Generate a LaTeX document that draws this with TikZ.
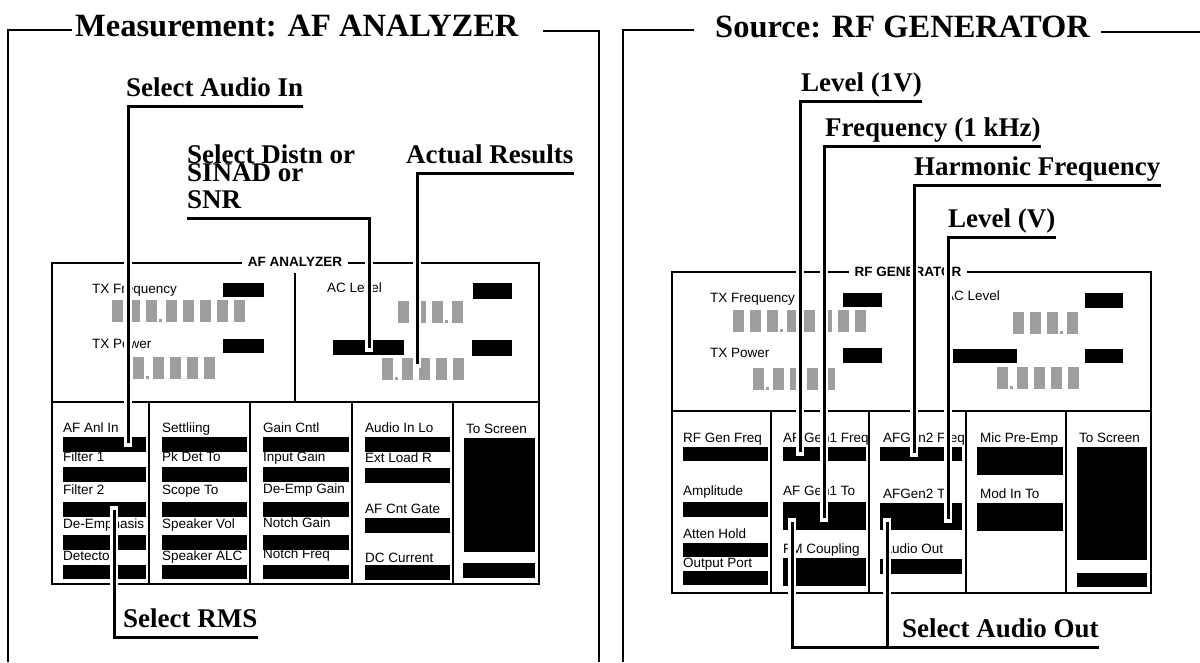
\documentclass[tikz,border=0pt]{standalone}
\usepackage{fontspec}
\setmainfont{Liberation Serif}
\newfontfamily\panelfont{Liberation Sans}
\usepackage{tikz}

% one row of grey display digits: x, top y, digits before / after the point
\newcommand{\segrow}[4]{%
  \foreach \i in {1,...,#3} \fill[segfill] ({#1+(\i-1)*17},#2) rectangle ++(11,22);
  \fill[segfill] ({#1+#3*17-4},{#2+19}) rectangle ++(3,3);
  \foreach \j in {1,...,#4} \fill[segfill] ({#1+#3*17+3+(\j-1)*17},#2) rectangle ++(11,22);
}

\tikzset{
  frameline/.style={line width=1.5pt},
  panelline/.style={line width=2.5pt},
  divline/.style={line width=1.2pt},
  callout/.style={line width=3pt, preaction={draw=white, line width=8pt, line cap=rect}},
  heading/.style={font=\bfseries\fontsize{32.5}{34}\selectfont, inner sep=0pt, anchor=base west},
  calllabel/.style={font=\bfseries\fontsize{27}{27}\selectfont, inner xsep=0pt, inner ysep=2pt,
    text depth=7pt, anchor=south west, align=left},
  pnl/.style={font=\panelfont\fontsize{13.5}{14}\selectfont, inner sep=0pt, anchor=base west},
  pnltitle/.style={font=\panelfont\bfseries\fontsize{13.5}{14}\selectfont, fill=white,
    inner xsep=6pt, inner ysep=2pt},
  segfill/.style={fill=black!38},
}

\begin{document}
\begin{tikzpicture}[x=1pt, y=-1pt]
  \useasboundingbox (0,0) rectangle (1200,662);

  % frames and headings
  \node[heading] (ttlMeas) at (75,36) {Measurement: AF ANALYZER};
  \draw[frameline] (8,662) -- (8,30) -- (72,30);
  \draw[frameline] (543,31) -- (599,31) -- (599,662);
  \node[heading] (ttlSrc) at (715,37) {Source: RF GENERATOR};
  \draw[frameline] (623,662) -- (623,30) -- (694,30);
  \draw[frameline] (1101,32) -- (1200,32);

  % ---------------- AF ANALYZER panel ----------------
  \draw[panelline] (52,263) rectangle (539,584);
  \draw[divline] (52,402) -- (539,402);
  \draw[divline] (295,273) -- (295,402);
  \foreach \x in {149,250,352,453}
    \draw[divline] (\x,402) -- (\x,584);
  \node[pnltitle] (pttlAF) at (295,262) {AF ANALYZER};

  % meters
  \node[pnl] (afTxF) at (92,293) {TX Frequency};
  \node[pnl] (afTxP) at (92,348) {TX Power};
  \node[pnl] (afAcL) at (327,292) {AC Level};
  \fill (223,283) rectangle (264,297);
  \fill (223,339) rectangle (264,353);
  \fill (473,283) rectangle (512,299);
  \fill (333,340) rectangle (404,355);
  \fill (472,340) rectangle (512,356);
  \segrow{112}{300}{3}{5}
  \segrow{133}{357}{1}{4}
  \segrow{398}{301}{3}{1}
  \segrow{382}{358}{1}{4}

  % settings fields
  \foreach \yb/\ya/\yz/\txt [count=\r] in {432/437/452/AF Anl In, 461/467/482/Filter 1,
      494/502/517/Filter 2, 528/535/550/De-Emphasis, 560/565/579/Detector} {
    \node[pnl] (af1-\r) at (63,\yb) {\txt};
    \fill (63,\ya) rectangle (146,\yz);
  }
  \foreach \yb/\ya/\yz/\txt [count=\r] in {432/437/452/Settliing, 461/467/482/Pk Det To,
      494/502/517/Scope To, 528/535/550/Speaker Vol, 560/565/579/Speaker ALC} {
    \node[pnl] (af2-\r) at (162,\yb) {\txt};
    \fill (162,\ya) rectangle (247,\yz);
  }
  \foreach \yb/\ya/\yz/\txt [count=\r] in {432/437/452/Gain Cntl, 461/467/482/Input Gain,
      493/502/517/De-Emp Gain, 527/535/550/Notch Gain, 558/565/579/Notch Freq} {
    \node[pnl] (af3-\r) at (263,\yb) {\txt};
    \fill (263,\ya) rectangle (349,\yz);
  }
  \foreach \yb/\ya/\yz/\txt [count=\r] in {432/437/452/Audio In Lo, 462/468/483/Ext Load R,
      513/518/533/AF Cnt Gate, 562/565/580/DC Current} {
    \node[pnl] (af4-\r) at (365,\yb) {\txt};
    \fill (365,\ya) rectangle (450,\yz);
  }
  \node[pnl] (af5-1) at (466,433) {To Screen};
  \fill (464,438) rectangle (535,552);
  \fill (463,563) rectangle (535,578);

  % ---------------- RF GENERATOR panel ----------------
  \draw[panelline] (672,272) rectangle (1151,593);
  \draw[divline] (672,411) -- (1151,411);
  \foreach \x in {771,869,966,1066}
    \draw[divline] (\x,411) -- (\x,593);
  \node[pnltitle] (pttlRF) at (908,272) {RF GENERATOR};

  % meters
  \node[pnl] (rfTxF) at (710,302) {TX Frequency};
  \node[pnl] (rfTxP) at (710,357) {TX Power};
  \node[pnl] (rfAcL) at (945,300) {AC Level};
  \fill (843,293) rectangle (882,307);
  \fill (843,348) rectangle (882,363);
  \fill (1085,293) rectangle (1123,308);
  \fill (953,349) rectangle (1017,363);
  \fill (1085,349) rectangle (1123,363);
  \segrow{733}{310}{3}{5}
  \segrow{753}{368}{1}{4}
  \segrow{1013}{312}{3}{1}
  \segrow{997}{367}{1}{4}

  % settings fields
  \foreach \yb/\ya/\yz/\txt [count=\r] in {442/447/461/RF Gen Freq, 495/502/517/Amplitude,
      538/543/557/Atten Hold, 567/571/585/Output Port} {
    \node[pnl] (rf1-\r) at (683,\yb) {\txt};
    \fill (683,\ya) rectangle (768,\yz);
  }
  \foreach \yb/\ya/\yz/\txt [count=\r] in {442/447/461/AF Gen1 Freq, 495/502/530/AF Gen1 To,
      553/558/586/FM Coupling} {
    \node[pnl] (rf2-\r) at (783,\yb) {\txt};
    \fill (783,\ya) rectangle (866,\yz);
  }
  \foreach \yb/\ya/\yz/\txt [count=\r] in {442/447/461/AFGen2 Freq, 498/503/530/AFGen2 To,
      553/559/574/Audio Out} {
    \node[pnl] (rf3-\r) at (883,\yb) {\txt};
    \fill (880,\ya) rectangle (962,\yz);
  }
  \foreach \yb/\ya/\yz/\txt [count=\r] in {442/447/475/Mic Pre-Emp, 498/503/531/Mod In To} {
    \node[pnl] (rf4-\r) at (980,\yb) {\txt};
    \fill (977,\ya) rectangle (1063,\yz);
  }
  \node[pnl] (rf5-1) at (1079,442) {To Screen};
  \fill (1077,447) rectangle (1147,560);
  \fill (1077,573) rectangle (1147,587);

  % ---------------- call-outs ----------------
  \node[calllabel] (lblAudio) at (126,106) {Select Audio In};
  \node[calllabel] (lblDistn) at (187,218) {Select Distn or\\[-9pt]SINAD or\\SNR};
  \node[calllabel] (lblActual) at (406,173) {Actual Results};
  \node[calllabel] (lblRMS) at (123,637) {Select RMS};
  \node[calllabel] (lblLevA) at (801,101) {Level (1V)};
  \node[calllabel] (lblFreq) at (825,146) {Frequency (1 kHz)};
  \node[calllabel] (lblHarm) at (914,185) {Harmonic Frequency};
  \node[calllabel] (lblLevB) at (948,237) {Level (V)};
  \node[calllabel] (lblOut) at (902,647) {Select Audio Out};

  \coordinate (tAudio) at (128,443);
  \coordinate (tDistn) at (369,348);
  \coordinate (tActual) at (417,364);
  \coordinate (tRMS) at (114,510);
  \coordinate (tLevA) at (800,452);
  \coordinate (tFreq) at (824,518);
  \coordinate (tHarm) at (914,453);
  \coordinate (tLevB) at (948,519);
  \coordinate (tOutA) at (792,522);
  \coordinate (tOutB) at (887,522);

  \draw[callout] (lblAudio.south east) -| (tAudio);
  \draw[callout] (lblDistn.south west) -| (tDistn);
  \draw[callout] (lblActual.south east) -| (tActual);
  \draw[callout] (tRMS) |- (lblRMS.south east);
  \draw[callout] (lblLevA.south east) -| (tLevA);
  \draw[callout] (lblFreq.south east) -| (tFreq);
  \draw[callout] (lblHarm.south east) -| (tHarm);
  \draw[callout] (lblLevB.south east) -| (tLevB);
  \draw[callout] (tOutA) |- (lblOut.south east) (tOutB) -- (tOutB |- lblOut.south);
\end{tikzpicture}
\end{document}
